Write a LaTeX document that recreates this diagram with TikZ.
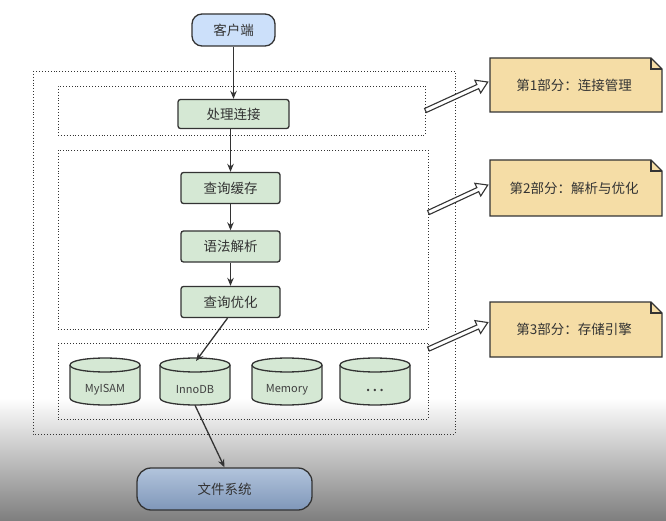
\documentclass[tikz,border=0pt]{standalone}
\usepackage{fontspec}
\setmainfont{Noto Sans CJK SC}
\usetikzlibrary{arrows.meta,calc}
\definecolor{lineC}{HTML}{333333}
\definecolor{greenF}{HTML}{D5E8D4}
\definecolor{blueF}{HTML}{CCE0FA}
\definecolor{noteF}{HTML}{F5DDA6}
\definecolor{fsTop}{HTML}{B2C4DC}
\definecolor{fsBot}{HTML}{7F97B9}
\definecolor{bgBot}{HTML}{7E7E7E}
\tikzset{
  procbox/.style={draw=lineC, line width=1.3pt, fill=greenF, rounded corners=2.5pt,
    minimum width=99pt, minimum height=31pt, font=\fontsize{13.5}{15}\selectfont, text=black!80},
  dotbox/.style={draw=lineC, dotted, line width=0.9pt},
  flow/.style={draw=lineC, line width=1.3pt, -{Stealth[length=8pt,width=6.5pt]}},
  hollowshape/.style={draw=lineC, line width=1.1pt, fill=white, line join=miter},
  notetext/.style={font=\fontsize{13.5}{15}\selectfont, text=black!80, inner sep=0pt, minimum width=172pt},
  cyl/.style={draw=lineC, line width=1.3pt, fill=greenF},
  cyltext/.style={font=\fontsize{11}{12}\selectfont, text=black!75},
}
\newcommand{\mycyl}[4][]{% [text style], name, center x, label
  \path[cyl] (#3-35,365) -- (#3-35,398) .. controls (#3-35,407.3) and (#3+35,407.3) .. (#3+35,398)
     -- (#3+35,365) .. controls (#3+35,355.7) and (#3-35,355.7) .. (#3-35,365) -- cycle;
  \draw[line width=1.3pt, draw=lineC] (#3-35,365) .. controls (#3-35,374.3) and (#3+35,374.3) .. (#3+35,365);
  \node[inner sep=0pt, minimum width=70pt, minimum height=47pt] (#2) at (#3,381.5) {};
  \node[cyltext, #1] (#2t) at (#3,389.5) {#4};
}
\newcommand{\mynote}[4]{% name, y0, y1, text
  \path[draw=lineC, line width=1.3pt, fill=noteF] (490,#2) -- (651,#2) -- (662,#2+11) -- (662,#3) -- (490,#3) -- cycle;
  \draw[draw=lineC, line width=1.3pt] (651,#2) -- (651,#2+11) -- (662,#2+11);
  \node[notetext] (#1) at (574,{(#2+#3)/2}) {#4};
}
\newcommand{\hollowarrow}[2]{% from, to
  \path let \p1=(#1), \p2=(#2), \n1={atan2(\y2-\y1,\x2-\x1)}, \n2={veclen(\x2-\x1,\y2-\y1)} in
    \pgfextra{\xdef\haX{\x1}\xdef\haY{\y1}\pgfmathsetmacro\haAt{\n1}\xdef\haA{\haAt}\pgfmathsetmacro\haLt{\n2}\xdef\haL{\haLt}};
  \pgfmathsetmacro\haB{\haL-11}
  \draw[hollowshape, shift={(\haX,\haY)}, rotate=\haA] (0pt,-2.2pt) -- (\haB pt,-2.2pt) -- (\haB pt,-7pt)
    -- (\haL pt,0pt) -- (\haB pt,7pt) -- (\haB pt,2.2pt) -- (0pt,2.2pt) -- cycle;
}
\begin{document}
\begin{tikzpicture}[x=1pt,y=-1pt]
\useasboundingbox (0,0) rectangle (666,521);
% background
\fill[white] (0,0) rectangle (666,521);
\shade[top color=white, bottom color=bgBot] (0,398) rectangle (666,521);

% containers
\draw[dotbox] (33,71) rectangle (455,434);
\node[dotbox, inner sep=0pt, minimum width=367pt, minimum height=49pt] (box1) at (241.5,110.5) {};
\node[dotbox, inner sep=0pt, minimum width=370pt, minimum height=179pt] (box2) at (243,239.5) {};
\node[dotbox, inner sep=0pt, minimum width=370pt, minimum height=76pt] (box3) at (243,381) {};

% nodes
\node[draw=lineC, line width=1.3pt, fill=blueF, rounded corners=10pt, minimum width=83pt, minimum height=32pt,
  font=\fontsize{13.5}{15}\selectfont, text=black!80] (client) at (233.5,30) {客户端};
\node[procbox, minimum width=111pt, minimum height=29pt] (conn) at (233.5,114) {处理连接};
\node[procbox] (cache) at (230.5,188) {查询缓存};
\node[procbox] (parse) at (230.5,246.5) {语法解析};
\node[procbox] (optim) at (230.5,302) {查询优化};

\mycyl{myisam}{105}{MyISAM}
\mycyl{innodb}{195}{InnoDB}
\mycyl{memory}{287}{Memory}
\mycyl[font=\fontsize{18}{18}\selectfont, yshift=-1pt]{more}{375}{…}
\coordinate (innotop) at (196,361);

\node[draw=lineC, line width=1.3pt, top color=fsTop, bottom color=fsBot, rounded corners=14pt,
  minimum width=175pt, minimum height=42pt, font=\fontsize{13.5}{15}\selectfont, text=black!80] (fs) at (224.5,489) {文件系统};

% notes
\mynote{note1}{58}{112}{第1部分：连接管理}
\mynote{note2}{160}{216}{第2部分：解析与优化}
\mynote{note3}{302}{357}{第3部分：存储引擎}

% flow arrows
\draw[flow] (client) -- (conn);
\draw[flow] (conn.south -| cache.north) -- (cache);
\draw[flow] (cache) -- (parse);
\draw[flow] (parse) -- (optim);
\draw[flow] ([xshift=-3pt]optim.south) -- (innotop);
\draw[flow] (innodb.south) -- (fs.north);

% hollow arrows
\hollowarrow{box1.east}{[yshift=3pt]note1.west}
\hollowarrow{[yshift=27pt]box2.east}{[yshift=3pt]note2.west}
\hollowarrow{[yshift=32pt]box3.east}{[yshift=7pt]note3.west}
\end{tikzpicture}
\end{document}
